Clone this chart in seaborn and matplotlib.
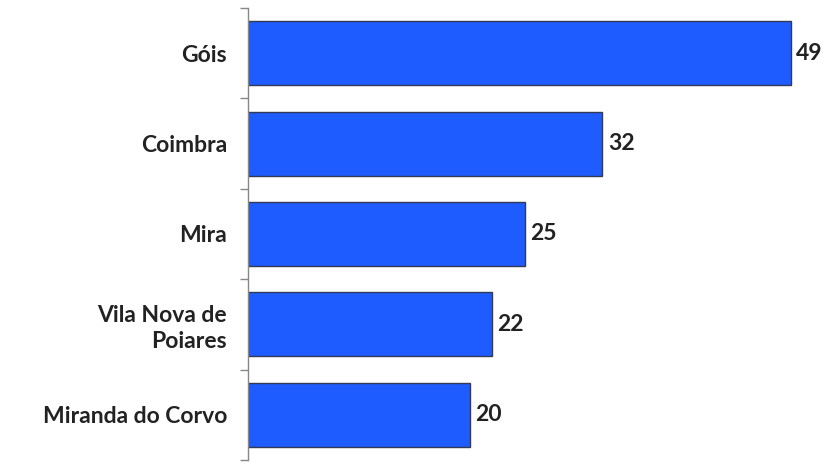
import matplotlib
matplotlib.use("Agg")
import matplotlib.pyplot as plt
import seaborn as sns
import pandas as pd
import numpy as np

categories = ["Góis", "Coimbra", "Mira", "Vila Nova de\nPoiares", "Miranda do Corvo"]
values = [49, 32, 25, 22, 20]

sns.set_style("white")
plt.rcParams['font.family'] = ['Lato', 'DejaVu Sans']

df = pd.DataFrame({"cat": categories, "val": values})

fig = plt.figure(figsize=(8.38, 4.63), dpi=100)
ax = fig.add_axes([248/838, 3/463, 587/838, 452/463])
sns.barplot(data=df, x="val", y="cat", orient="h", color="#1f5cff", saturation=1,
            edgecolor="#333a55", linewidth=1.0, width=0.71, ax=ax)

ax.set_xlim(0, 53)
ax.set_ylim(len(categories) - 0.5, -0.5)
for s in ["top", "right", "bottom"]:
    ax.spines[s].set_visible(False)
ax.spines["left"].set_color("#888888")
ax.spines["left"].set_linewidth(1.0)
ax.set_xticks([])
ax.set_xlabel("")
ax.set_ylabel("")
ax.set_yticks(np.arange(len(categories)))
ax.set_yticklabels(categories, fontsize=16.5, fontweight="bold", color="#222222", ha="right",
                   linespacing=1.25)
ax.tick_params(axis="y", which="major", left=False, length=0, pad=15)
ax.set_yticks(np.arange(-0.5, len(categories)), minor=True)
ax.tick_params(axis="y", which="minor", left=True, length=6, width=1.0, color="#888888")

for i, v in enumerate(values):
    ax.text(v + 0.5, i, str(v), va="center", ha="left", fontsize=16.5,
            fontweight="bold", color="#222222")

fig.savefig("out.png", dpi=100)
